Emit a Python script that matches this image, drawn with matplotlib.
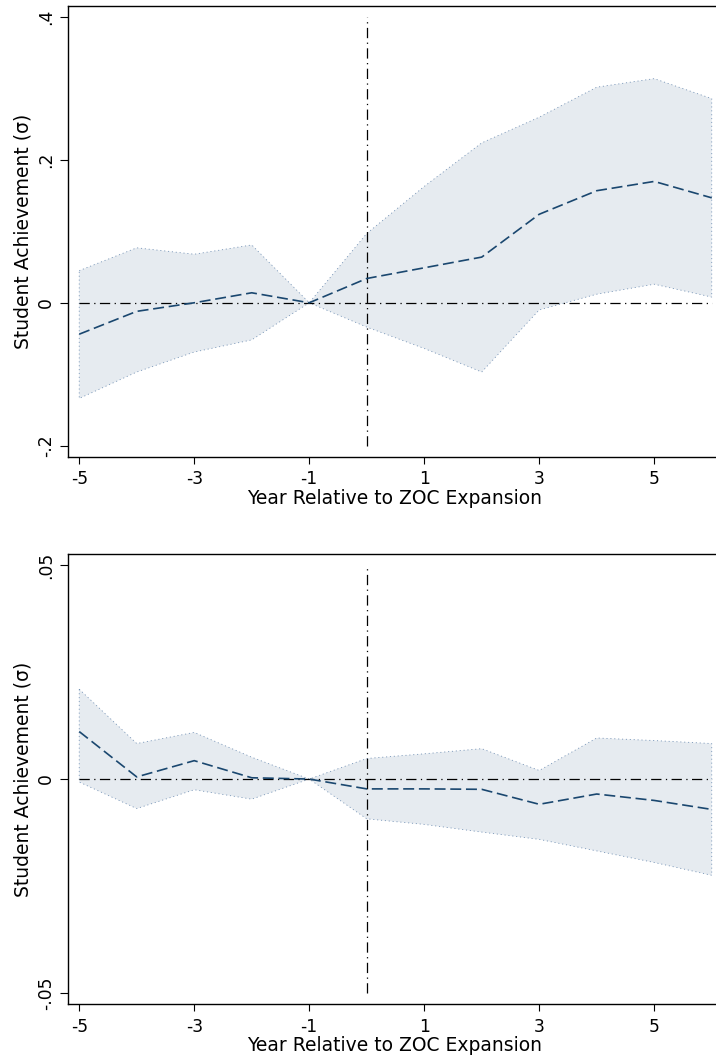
import numpy as np
import matplotlib
matplotlib.use("Agg")
import matplotlib.pyplot as plt

plt.rcParams['font.family'] = ['DejaVu Sans']
plt.rcParams['lines.scale_dashes'] = False

# event time
years = [-5, -4, -3, -2, -1, 0, 1, 2, 3, 4, 5, 6]
xtick_vals = [-5, -3, -1, 1, 3, 5]

# top panel
top_est = [-0.044, -0.012, 0.0, 0.014, 0.0, 0.034, 0.049, 0.064, 0.124, 0.157, 0.170, 0.147]
top_hi = [0.045, 0.077, 0.068, 0.081, 0.0, 0.097, 0.163, 0.224, 0.260, 0.302, 0.314, 0.286]
top_lo = [-0.134, -0.097, -0.069, -0.052, 0.0, -0.034, -0.064, -0.097, -0.010, 0.012, 0.026, 0.008]
top_yticks = [-0.2, 0, 0.2, 0.4]
top_ylabels = ['-.2', '0', '.2', '.4']

# bottom panel
bot_est = [0.0111, 0.0005, 0.0043, 0.0003, 0.0, -0.0023, -0.0023, -0.0024, -0.0059, -0.0035, -0.0050, -0.0071]
bot_hi = [0.0210, 0.0083, 0.0109, 0.0051, 0.0, 0.0048, 0.0059, 0.0071, 0.0020, 0.0096, 0.0090, 0.0083]
bot_lo = [-0.0007, -0.0069, -0.0025, -0.0047, 0.0, -0.0093, -0.0106, -0.0124, -0.0141, -0.0168, -0.0195, -0.0225]
bot_yticks = [-0.05, 0, 0.05]
bot_ylabels = ['-.05', '0', '.05']

fill_col = '#e6ebf0'
edge_col = '#7593b6'
est_col = '#1a476f'
tick_fs = 12.3
title_fs = 13.5


def panel(ax, est, hi, lo, yticks, ylabels, pad):
    x = np.array(years)
    xs = np.concatenate([x, x[::-1]])
    ys = np.concatenate([np.array(hi), np.array(lo)[::-1]])
    ax.fill(xs, ys, facecolor=fill_col, edgecolor=edge_col, linewidth=0.6,
            linestyle=(0, (0.8, 2.0)), zorder=1)
    # reference lines at zero
    dashdot = (0, (7.4, 3.2, 0.9, 3.2))
    ax.plot([years[0], years[-1]], [0, 0], color='black', lw=0.9,
            linestyle=dashdot, zorder=2)
    ax.plot([0, 0], [yticks[0], yticks[-1]], color='black', lw=0.9,
            linestyle=dashdot, zorder=2)
    ax.plot(years, est, color=est_col, lw=1.2, linestyle=(0, (7.9, 3.4)), zorder=3)

    ax.set_xlim(-5.2, 6.2)
    ax.set_ylim(yticks[0] - pad, yticks[-1] + pad)
    ax.set_xticks(xtick_vals)
    ax.set_xticklabels([str(v) for v in xtick_vals])
    ax.set_yticks(yticks)
    ax.set_yticklabels(ylabels, rotation=90, va='center')
    ax.tick_params(axis='y', length=5.8, width=0.8, pad=3.5, labelsize=tick_fs)
    ax.tick_params(axis='x', length=5.0, width=0.8, pad=4.8, labelsize=tick_fs)
    for s in ax.spines.values():
        s.set_linewidth(1.0)
    ax.set_xlabel('Year Relative to ZOC Expansion', fontsize=title_fs)
    ax.set_ylabel('Student Achievement (σ)', fontsize=title_fs)


fig = plt.figure(figsize=(7.16, 10.59), dpi=100)
ax1 = fig.add_axes([0.0946, 0.5687, 0.9155, 0.4256])
ax2 = fig.add_axes([0.0946, 0.0519, 0.9155, 0.4249])

panel(ax1, top_est, top_hi, top_lo, top_yticks, top_ylabels, 0.0157)
panel(ax2, bot_est, bot_hi, bot_lo, bot_yticks, bot_ylabels, 0.0026)

for ax in (ax1, ax2):
    ax.yaxis.set_label_coords(-0.053, 0.5)
    ax.xaxis.set_label_coords(0.4993, -0.0715)

fig.savefig('out.png', dpi=100)
